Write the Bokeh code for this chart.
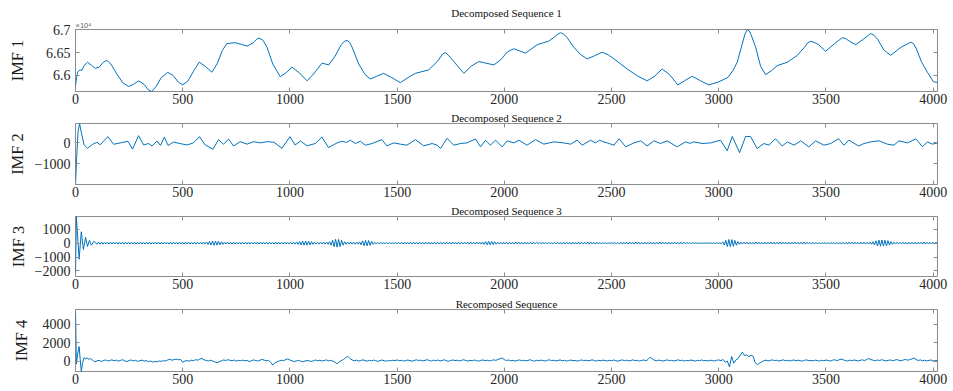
from bokeh.plotting import figure
from bokeh.layouts import column
from bokeh.models import Range1d, FixedTicker, LinearAxis, CustomJSTickFormatter, Title
from bokeh.embed import file_html
from bokeh.resources import INLINE

# ---------------- data ----------------
X_TICKS = [0, 500, 1000, 1500, 2000, 2500, 3000, 3500, 4000]
X_END = 4020
TITLES = ["Decomposed Sequence 1", "Decomposed Sequence 2",
          "Decomposed Sequence 3", "Recomposed Sequence"]
YLABELS = ["IMF 1", "IMF 2", "IMF 3", "IMF 4"]
IMF1_TICKS = [66000, 66500, 67000]
IMF2_TICKS = [-1000, 0]
IMF3_TICKS = [-2000, -1000, 0, 1000]
IMF4_TICKS = [0, 2000, 4000]

IMF1_X = [
    0, 5, 10, 20, 30, 40, 56, 75, 92, 110,
    130, 146, 165, 193, 220, 247, 270, 294, 320, 340,
    356, 375, 400, 430, 455, 480, 500, 525, 550, 577,
    605, 636, 660, 685, 706, 745, 775, 800, 830, 843,
    854, 865, 875, 893, 920, 955, 980, 1010, 1045, 1080,
    1110, 1150, 1181, 1210, 1240, 1254, 1266, 1278, 1290, 1321,
    1350, 1375, 1405, 1437, 1475, 1515, 1550, 1585, 1647, 1690,
    1712, 1725, 1738, 1765, 1811, 1845, 1881, 1951, 1982, 2015,
    2044, 2070, 2099, 2153, 2207, 2235, 2250, 2262, 2275, 2290,
    2324, 2355, 2386, 2420, 2456, 2485, 2511, 2573, 2620, 2666,
    2700, 2736, 2770, 2809, 2840, 2876, 2915, 2954, 3001, 3043,
    3065, 3086, 3110, 3122, 3133, 3142, 3150, 3172, 3195, 3218,
    3245, 3273, 3320, 3366, 3400, 3415, 3428, 3440, 3465, 3498,
    3540, 3576, 3592, 3610, 3638, 3675, 3708, 3722, 3740, 3770,
    3801, 3850, 3895, 3908, 3920, 3945, 3973, 4001, 4020]
IMF1_Y = [
    65770, 65950, 66070, 66120, 66110, 66215, 66290, 66220, 66156, 66180,
    66290, 66330, 66250, 66030, 65840, 65756, 65800, 65880, 65800, 65680,
    65645, 65750, 65950, 66067, 66000, 65850, 65790, 65880, 66090, 66290,
    66200, 66070, 66250, 66550, 66700, 66720, 66680, 66645, 66720, 66790,
    66820, 66800, 66770, 66620, 66250, 65970, 66050, 66180, 66050, 65880,
    66030, 66270, 66230, 66420, 66680, 66750, 66770, 66730, 66620, 66250,
    66020, 65920, 65980, 66045, 65950, 65840, 65950, 66045, 66120, 66320,
    66470, 66500, 66450, 66300, 66045, 66200, 66305, 66230, 66340, 66520,
    66587, 66540, 66490, 66675, 66755, 66850, 66910, 66940, 66910, 66850,
    66620, 66460, 66364, 66430, 66510, 66450, 66364, 66140, 65990, 65880,
    65980, 66140, 66020, 65790, 65880, 65980, 65880, 65790, 65860, 65956,
    66100, 66290, 66700, 66910, 67010, 66980, 66900, 66620, 66200, 66016,
    66100, 66216, 66290, 66440, 66620, 66720, 66750, 66735, 66680, 66530,
    66700, 66830, 66810, 66750, 66675, 66800, 66920, 66890, 66800, 66560,
    66440, 66620, 66730, 66700, 66600, 66300, 66067, 65860, 65845]

IMF2_X = [
    0, 6, 12, 19, 28, 40, 56, 78, 100, 115,
    151, 178, 209, 245, 266, 294, 318, 340, 357, 380,
    397, 414, 432, 457, 489, 520, 550, 578, 605, 641,
    667, 690, 714, 737, 768, 800, 831, 862, 893, 925,
    963, 1000, 1024, 1049, 1080, 1118, 1149, 1180, 1220, 1243,
    1263, 1282, 1305, 1328, 1352, 1383, 1429, 1452, 1484, 1515,
    1546, 1585, 1624, 1663, 1687, 1702, 1733, 1764, 1795, 1826,
    1865, 1889, 1912, 1935, 1959, 1990, 2013, 2044, 2068, 2106,
    2145, 2184, 2231, 2277, 2310, 2339, 2363, 2402, 2425, 2444,
    2464, 2480, 2511, 2535, 2566, 2604, 2636, 2666, 2697, 2728,
    2759, 2806, 2845, 2865, 2884, 2923, 2962, 3008, 3039, 3063,
    3097, 3125, 3148, 3179, 3210, 3234, 3264, 3296, 3320, 3351,
    3382, 3420, 3452, 3490, 3522, 3559, 3584, 3607, 3652, 3677,
    3708, 3747, 3786, 3817, 3840, 3880, 3919, 3950, 3973, 3996,
    4020]
IMF2_Y = [
    -2000, -570, 540, 933, 460, -95, -257, -80, 30, -90,
    300, -65, 0, 80, -300, 350, -100, -30, -150, 90,
    -120, 280, -120, 40, -35, -100, 0, 300, -100, -300,
    150, -60, 180, -150, 60, -60, 60, 0, 60, 30,
    -260, 300, -100, 90, -140, -30, 280, -220, 0, 80,
    20, 130, -30, 80, -110, -30, 160, -140, 0, -60,
    -110, 160, -140, -30, -110, -270, 220, -110, -30, 0,
    190, -190, 130, -110, 130, -190, 100, 0, 130, -110,
    160, -60, 50, 0, -60, 130, -110, 130, 0, 130,
    40, 0, -110, 200, -190, 0, 100, -150, 100, -30,
    100, -190, 50, -20, 50, -30, 0, 130, -380, 310,
    -470, 310, 310, -270, -30, -110, 200, -150, 50, -110,
    100, -190, 100, -110, -30, 200, -110, 130, -150, -30,
    50, 100, -60, -110, 100, 0, 200, -190, 50, -60,
    0]

# IMF 3: start-up transient (explicit), then samples every 7 points from 100
IMF3_HEAD_X = [0, 4, 17, 27, 37, 47, 56, 65, 74, 86]
IMF3_HEAD_Y = [-2400, 1916, -1160, 818, -460, 420, -250, 200, -150, 130]
IMF3_START, IMF3_STEP = 100, 7
IMF3_Y = [
    -80, 75, -72, 70, -75, 70, -65, 70, -72, 66,
    -68, 72, -62, 66, -72, 68, -64, 60, -70, 72,
    -64, 70, -72, 60, -66, 72, -68, 64, -60, 70,
    -72, 64, -68, 60, -66, 70, -72, 66, -62, 68,
    -66, 72, -70, 62, -64, 68, -60, 66, -72, 70,
    -68, 72, -62, 66, -72, 68, -64, 60, -70, 72,
    -64, 70, -72, 60, -66, 72, -68, 64, -60, 70,
    -66, 72, -70, 85, -100, 120, -140, 150, -155, 150,
    -145, 135, -115, 95, -80, 70, -64, 70, -66, 62,
    -72, 64, -68, 60, -66, 70, -72, 66, -62, 68,
    -66, 72, -70, 62, -64, 68, -60, 66, -72, 70,
    -68, 72, -62, 66, -72, 68, -64, 60, -70, 72,
    -64, 70, -72, 60, -66, 72, -68, 64, -60, 70,
    -66, 70, -72, 75, -90, 110, -130, 145, -150, 150,
    -145, 140, -125, 105, -90, 75, -70, 66, -72, 70,
    -66, 70, -72, 75, -80, 100, -150, 210, -255, 280,
    -285, 275, -250, 205, -150, 100, -80, 75, -72, 78,
    -75, 70, -78, 75, -72, 90, -120, 160, -185, 195,
    -195, 185, -165, 130, -90, 55, -35, 32, -30, 34,
    -32, 30, -34, 36, -30, 32, -30, 34, -36, 30,
    -36, 50, -62, 66, -70, 62, -66, 70, -64, 68,
    -68, 72, -62, 66, -72, 68, -64, 60, -70, 72,
    -64, 70, -72, 60, -66, 72, -68, 64, -60, 70,
    -72, 64, -68, 60, -66, 70, -72, 66, -62, 68,
    -66, 72, -70, 62, -64, 68, -60, 66, -72, 70,
    -66, 62, -70, 66, -62, 68, -72, 80, -95, 110,
    -120, 125, -125, 120, -110, 95, -75, 66, -70, 62,
    -68, 72, -62, 66, -72, 68, -64, 60, -70, 72,
    -64, 70, -72, 60, -66, 72, -68, 64, -60, 70,
    -66, 62, -60, 58, -50, 42, -32, 30, -28, 30,
    -30, 28, -32, 36, -48, 56, -62, 66, -62, 58,
    -72, 64, -68, 60, -66, 70, -72, 66, -62, 68,
    -66, 72, -70, 62, -64, 68, -60, 66, -72, 70,
    -60, 64, -66, 62, -58, 60, -52, 42, -34, 30,
    -28, 30, -28, 30, -28, 32, -38, 46, -56, 62,
    -68, 72, -62, 66, -72, 68, -64, 60, -70, 72,
    -64, 70, -72, 60, -66, 72, -68, 64, -60, 70,
    -72, 64, -68, 60, -66, 70, -72, 66, -62, 68,
    -66, 72, -70, 62, -64, 68, -60, 66, -72, 70,
    -64, 60, -55, 50, -45, 38, -32, 28, -25, 25,
    -22, 25, -22, 25, -22, 25, -22, 25, -25, 22,
    -25, 22, -25, 22, -25, 30, -50, 85, -140, 200,
    -250, 265, -260, 250, -230, 195, -150, 110, -85, 72,
    -68, 72, -62, 66, -72, 68, -64, 60, -70, 72,
    -64, 70, -72, 60, -66, 72, -68, 64, -60, 70,
    -72, 64, -68, 60, -66, 70, -72, 66, -62, 68,
    -66, 72, -70, 62, -64, 68, -60, 66, -72, 70,
    -66, 70, -72, 64, -62, 55, -45, 38, -34, 32,
    -32, 30, -34, 30, -32, 30, -34, 30, -32, 30,
    -34, 30, -32, 30, -34, 32, -38, 46, -56, 62,
    -68, 72, -62, 66, -72, 68, -64, 60, -70, 72,
    -64, 70, -72, 60, -66, 72, -80, 100, -135, 170,
    -200, 215, -220, 220, -215, 210, -195, 175, -145, 110,
    -85, 70, -64, 60, -66, 62, -58, 62, -66, 60,
    -72, 64, -68, 60, -66, 70, -72, 66, -62, 68,
    -66, 72, -70, 62, -64, 68, -60, 66, -72, 70,
    -60]

# IMF 4: start-up transient (explicit), then samples every 10 points from 80
IMF4_HEAD_X = [0, 4, 10, 17, 22, 27, 33, 40, 48, 55, 62, 70]
IMF4_HEAD_Y = [5600, -300, 800, 1600, 200, -1100, -200, 400, 250, 380, 200, 300]
IMF4_START, IMF4_STEP = 80, 10
IMF4_Y = [
    120, -60, 40, 110, -20, 80, 150, 30, 90, 160,
    60, 130, 20, 100, 170, 50, -30, 90, 140, 40,
    110, -10, 70, 130, 20, 90, -40, 30, -80, -20,
    -60, 40, -10, 80, 30, 150, 210, 120, 190, 240,
    160, 220, -100, 30, 80, 10, 130, 60, 180, 120,
    250, 300, 160, 90, 40, 120, 30, -60, -150, -40,
    50, 150, 90, 170, 120, 60, 140, 20, 100, 70,
    130, 40, 110, -20, 60, 150, 90, 30, 120, 200,
    130, 60, 100, -100, -400, -180, -60, 40, 110, 70,
    180, 250, 140, 60, -30, 50, 100, 20, -50, 30,
    90, 40, -20, 70, 140, 60, 120, 30, 90, 150,
    60, 110, 30, -100, -270, -60, 80, 200, 400, 535,
    300, 150, 60, 120, 30, 90, 160, 80, 20, 110,
    50, 130, 70, -10, 80, 140, 60, 20, 100, 50,
    120, 80, 150, 60, 110, 30, 90, 140, 70, 20,
    100, 160, 80, 130, 40, 110, 170, 90, 30, 120,
    70, 140, 40, 100, 160, 60, 10, 90, 150, 80,
    120, 40, 100, 170, 90, 30, 110, 60, 140, 80,
    20, 100, 150, 70, 120, 40, 90, 160, 100, 200,
    280, 360, 180, 90, 140, 60, 110, 30, 90, 150,
    70, 120, 40, 100, 170, 80, 20, 110, 60, 130,
    90, 30, 110, 160, 70, 120, 40, 90, 150, 60,
    110, 30, 80, 140, 60, 100, 20, 90, 150, 70,
    120, 50, 100, 160, 80, 30, 110, 60, 130, 90,
    40, 110, 70, 140, 60, 20, 100, 150, 80, 120,
    40, 90, 160, 70, 110, 30, 100, 140, 60, 200,
    450, 260, 120, 60, 130, 80, 30, 100, 150, 70,
    110, 40, 90, 160, 80, 120, 30, 100, 60, 140,
    90, 20, 110, 70, 150, 60, 100, 30, 120, 80,
    40, 110, 150, 70, 200, -100, 30, -600, 530, -200,
    150, 300, 650, 1000, 600, 700, 500, 650, 550, -150,
    -350, -200, -50, 60, 130, 40, 100, 150, 80, 120,
    30, 90, 160, 70, 110, 40, 100, 140, 60, 120,
    80, 20, 110, 150, 70, 100, 40, 130, 80, 30,
    110, 60, 140, 90, 30, 120, 170, 80, 150, 250,
    160, 90, 40, 120, 70, 140, 100, 30, 110, 160,
    80, 200, 300, 180, 120, 60, 140, 90, 170, 110,
    40, 100, 150, 70, 120, 190, 110, 50, 140, 200,
    130, 170, 250, 360, 200, 90, 150, 60, 120, 40,
    100, 150, 30, 90, 60]

# ---------------- styling ----------------
SERIF = "Liberation Serif"
LINE_C = "#0072BD"
BOX_C = "#8c8c8c"
TXT_C = "#262626"
FIG_W = 950


def make(xs, ys, yticks, ylabel, title, height, btop, bbot, lab_standoff,
         yfmt=None, exponent=None):
    p = figure(width=FIG_W, height=height, output_backend="svg",
               toolbar_location=None,
               x_range=Range1d(0, X_END), y_range=Range1d(min(ys), max(ys)),
               x_axis_type=None, y_axis_type=None,
               min_border_left=75, min_border_right=13,
               min_border_top=btop, min_border_bottom=bbot)
    p.outline_line_color = BOX_C
    p.outline_line_width = 1
    p.background_fill_color = "white"
    p.border_fill_color = "white"
    p.line(xs, ys, line_color=LINE_C, line_width=1.0)

    for loc, tk, show in (("below", X_TICKS, True), ("above", X_TICKS, False),
                          ("left", yticks, True), ("right", yticks, False)):
        ax = LinearAxis(ticker=FixedTicker(ticks=tk))
        ax.axis_line_color = None
        ax.major_tick_in = 4
        ax.major_tick_out = 0
        ax.major_tick_line_color = BOX_C
        ax.minor_tick_line_color = None
        if show:
            ax.major_label_text_font = SERIF
            ax.major_label_text_font_size = "14px"
            ax.major_label_text_color = TXT_C
            ax.major_label_standoff = 2 if loc == "below" else 5
        else:
            # mirrored tick marks only (MATLAB box style), no labels
            ax.major_label_text_color = None
            ax.major_label_text_font_size = "1px"
            ax.major_label_standoff = 0
        if loc == "left":
            ax.axis_label = ylabel
            ax.axis_label_text_font = SERIF
            ax.axis_label_text_font_size = "16.5px"
            ax.axis_label_text_font_style = "normal"
            ax.axis_label_text_color = "#1a1a1a"
            ax.axis_label_standoff = lab_standoff
            if yfmt is not None:
                ax.formatter = yfmt
        p.add_layout(ax, loc)

    if exponent is not None:
        p.add_layout(Title(text=exponent, align="left", text_font="Liberation Sans",
                           text_font_size="7.5px", text_font_style="normal",
                           text_color="#666666", standoff=0), "above")
    p.title.text = title
    p.title.align = "center"
    p.title.text_font = SERIF
    p.title.text_font_size = "11px"
    p.title.text_font_style = "normal"
    p.title.text_color = "#111111"
    p.title.standoff = 0
    return p


imf3_x = IMF3_HEAD_X + [IMF3_START + IMF3_STEP * i for i in range(len(IMF3_Y))]
imf3_y = IMF3_HEAD_Y + IMF3_Y
imf4_x = IMF4_HEAD_X + [IMF4_START + IMF4_STEP * i for i in range(len(IMF4_Y))]
imf4_y = IMF4_HEAD_Y + IMF4_Y

fmt1 = CustomJSTickFormatter(code="return String(tick / 1e4);")

p1 = make(IMF1_X, IMF1_Y, IMF1_TICKS, YLABELS[0], TITLES[0], 109, 29, 18, 16,
          yfmt=fmt1, exponent="\u00d710\u2074")
p2 = make(IMF2_X, IMF2_Y, IMF2_TICKS, YLABELS[1], TITLES[1], 93, 13, 18, 5)
p3 = make(imf3_x, imf3_y, IMF3_TICKS, YLABELS[2], TITLES[2], 92, 12, 18, 4)
p4 = make(imf4_x, imf4_y, IMF4_TICKS, YLABELS[3], TITLES[3], 97, 15, 20, 9)

layout = column(p1, p2, p3, p4, spacing=0)
open("out.html", "w").write(file_html(layout, INLINE))
